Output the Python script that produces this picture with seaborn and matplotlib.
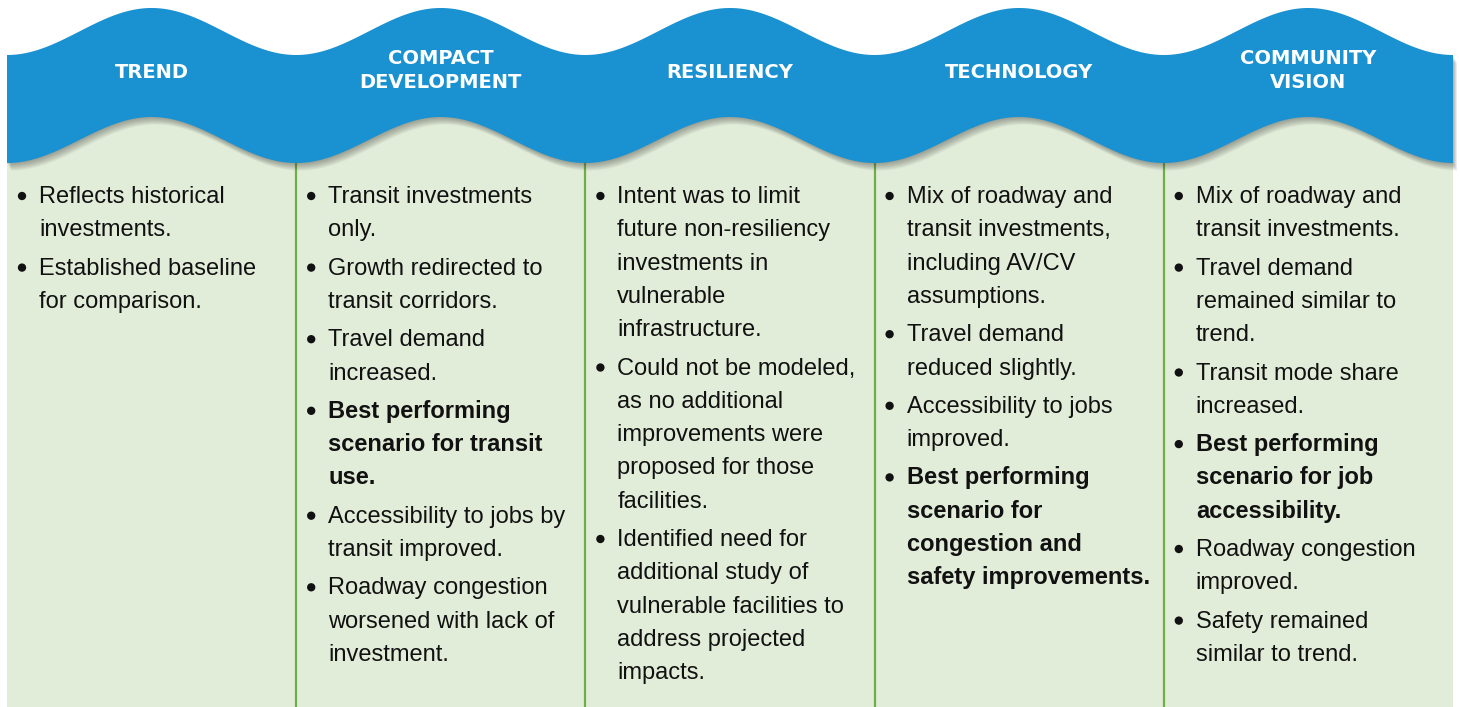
import numpy as np
import pandas as pd
import matplotlib
matplotlib.use("Agg")
import matplotlib.pyplot as plt
import seaborn as sns
from matplotlib.patches import Polygon, Rectangle

# ---------------- data ----------------
titles = ["TREND", "COMPACT\nDEVELOPMENT", "RESILIENCY", "TECHNOLOGY", "COMMUNITY\nVISION"]

trend_items = [["Reflects historical", "investments."],
               ["Established baseline", "for comparison."]]
trend_bold = [False, False]

compact_items = [["Transit investments", "only."],
                 ["Growth redirected to", "transit corridors."],
                 ["Travel demand", "increased."],
                 ["Best performing", "scenario for transit", "use."],
                 ["Accessibility to jobs by", "transit improved."],
                 ["Roadway congestion", "worsened with lack of", "investment."]]
compact_bold = [False, False, False, True, False, False]

resiliency_items = [["Intent was to limit", "future non-resiliency", "investments in", "vulnerable", "infrastructure."],
                    ["Could not be modeled,", "as no additional", "improvements were", "proposed for those", "facilities."],
                    ["Identified need for", "additional study of", "vulnerable facilities to", "address projected", "impacts."]]
resiliency_bold = [False, False, False]

technology_items = [["Mix of roadway and", "transit investments,", "including AV/CV", "assumptions."],
                    ["Travel demand", "reduced slightly."],
                    ["Accessibility to jobs", "improved."],
                    ["Best performing", "scenario for", "congestion and", "safety improvements."]]
technology_bold = [False, False, False, True]

vision_items = [["Mix of roadway and", "transit investments."],
                ["Travel demand", "remained similar to", "trend."],
                ["Transit mode share", "increased."],
                ["Best performing", "scenario for job", "accessibility."],
                ["Roadway congestion", "improved."],
                ["Safety remained", "similar to trend."]]
vision_bold = [False, False, False, True, False, False]

all_items = [trend_items, compact_items, resiliency_items, technology_items, vision_items]
all_bold = [trend_bold, compact_bold, resiliency_bold, technology_bold, vision_bold]

# ---------------- style ----------------
sns.set_theme(style="white")
BLUE = "#1A91D0"
GREEN_BG = "#E2EDD9"
GREEN_LINE = "#70AD47"
TEXT = "#111111"
BODY_FONT = ["Liberation Sans", "DejaVu Sans"]
HEAD_FONT = ["DejaVu Sans"]

W, H = 1460, 707
fig = plt.figure(figsize=(W / 100, H / 100), dpi=100)
ax = fig.add_axes([0, 0, 1, 1])
ax.set_xlim(0, W)
ax.set_ylim(H, 0)
ax.axis("off")

L, R = 7, 1453
ncol = len(titles)
colw = (R - L) / ncol

# green panel
ax.add_patch(Rectangle((L, 100), R - L, H - 100, facecolor=GREEN_BG, edgecolor="none", zorder=1))

# column separators
for i in range(1, ncol):
    xs = L + i * colw
    ax.plot([xs, xs], [160, H], color=GREEN_LINE, lw=1.6, zorder=2)

# wave header
x = np.linspace(L, R, 1200)
phase = 2 * np.pi * (x - (L + colw / 2)) / colw
top = 31.5 - 23.5 * np.cos(phase)
bot = 140.0 - 23.0 * np.cos(phase)
verts = np.vstack([np.column_stack([x, top]), np.column_stack([x[::-1], bot[::-1]])])

# soft shadow
for k in range(1, 10):
    sh = verts.copy()
    sh[:, 0] += k * 0.45
    sh[:, 1] += k * 0.85
    ax.add_patch(Polygon(sh, closed=True, facecolor="#333333", edgecolor="none",
                         alpha=0.05, zorder=3))
ax.add_patch(Polygon(verts, closed=True, facecolor=BLUE, edgecolor="none", zorder=4))

# titles
for i, t in enumerate(titles):
    cx = L + (i + 0.5) * colw
    lines = t.split("\n")
    ys = [72] if len(lines) == 1 else [59, 83]
    for ln, yy in zip(lines, ys):
        ax.text(cx, yy, ln, ha="center", va="center", color="white",
                fontsize=14, fontweight="bold", family=HEAD_FONT, zorder=5)

# bullets + text
line_h = 33.3
gap = 5.0
y0 = 203
fs = 17.0
bx, by = [], []
for i, (items, bolds) in enumerate(zip(all_items, all_bold)):
    cl = L + i * colw
    y = y0
    for lines, b in zip(items, bolds):
        bx.append(cl + 15)
        by.append(y - 7)
        for k, ln in enumerate(lines):
            ax.text(cl + 32, y + k * line_h, ln, ha="left", va="baseline", color=TEXT,
                    fontsize=fs, fontweight="bold" if b else "normal",
                    family=BODY_FONT, zorder=5)
        y += len(lines) * line_h + gap

bullets = pd.DataFrame({"x": bx, "y": by})
sns.scatterplot(data=bullets, x="x", y="y", ax=ax, s=36, color=TEXT,
                edgecolor="none", zorder=6, legend=False)
ax.set_xlim(0, W)
ax.set_ylim(H, 0)
ax.axis("off")

fig.savefig("out.png", dpi=100, facecolor="white")
